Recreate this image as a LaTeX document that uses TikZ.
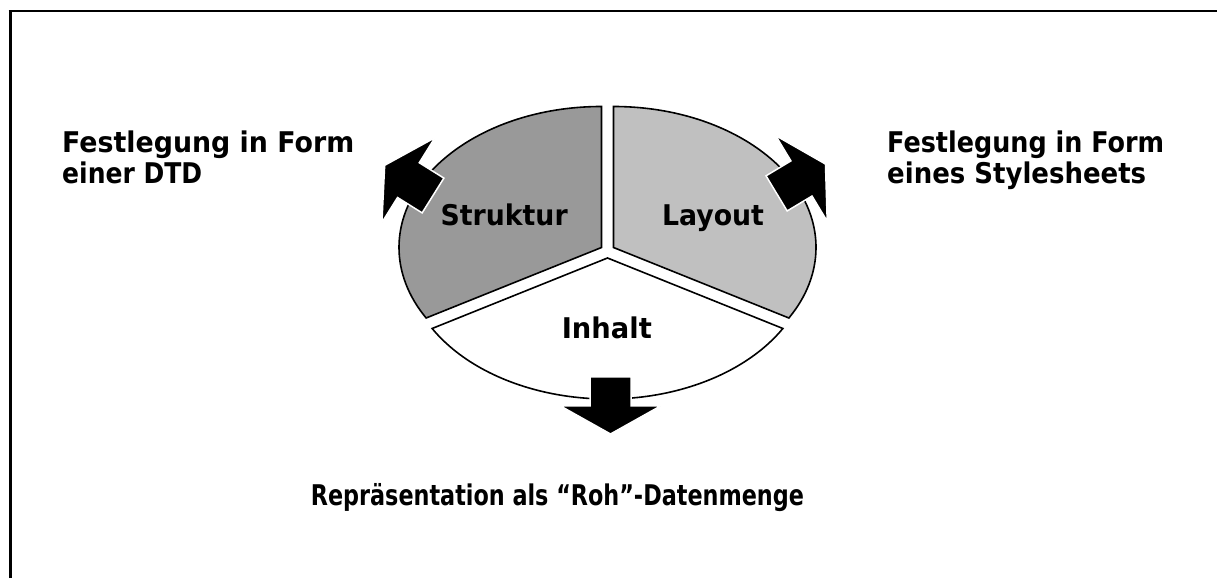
\documentclass[tikz,border=0pt]{standalone}
\usepackage{fontspec}
\usepackage{graphicx}
\setmainfont{DejaVu Sans}
\newfontfamily\condfont{DejaVu Sans Condensed}
\definecolor{strukturgray}{gray}{0.6}
\definecolor{layoutgray}{gray}{0.753}
\newcommand{\fitw}[2]{\resizebox{#1pt}{\height}{#2}}
\begin{document}
\begin{tikzpicture}[x=1pt,y=1pt,
  lbl/.style={inner sep=0pt, font=\fontsize{28.5}{34}\selectfont\bfseries},
  piece/.style={draw=black, line width=1.6pt, line join=miter},
  blockarrow/.style={fill=black, draw=white, line width=1.5pt, line join=miter}]
\useasboundingbox (0,0) rectangle (1217,578);
% frame
\draw[line width=3pt] (10,0) -- (10,566.5);
\draw[line width=2pt] (8.5,566.5) -- (1217,566.5);
% pie pieces
\draw[piece, fill=strukturgray] (601.5,330.5) -- (601.5,471.5)
  arc[start angle=90, end angle=210, x radius=202.5, y radius=141] -- cycle;
\draw[piece, fill=layoutgray] (613.5,330.5) -- (613.5,471.5)
  arc[start angle=90, end angle=-30, x radius=202.5, y radius=141] -- cycle;
\draw[piece, fill=white] (607.5,320) -- (432.13,249.5)
  arc[start angle=210, end angle=330, x radius=202.5, y radius=141] -- cycle;
% block arrows
\begin{scope}[shift={(433,382.5)}, rotate=148]
  \draw[blockarrow] (0,-20.5) -- (29,-20.5) -- (29,-50) -- (57,0) -- (29,50) -- (29,20.5) -- (0,20.5) -- cycle;
\end{scope}
\begin{scope}[shift={(776.6,384.6)}, rotate=31]
  \draw[blockarrow] (0,-20.5) -- (29,-20.5) -- (29,-50) -- (57,0) -- (29,50) -- (29,20.5) -- (0,20.5) -- cycle;
\end{scope}
\begin{scope}[shift={(610.5,201)}, rotate=-90]
  \draw[blockarrow] (0,-20.5) -- (29,-20.5) -- (29,-50) -- (57,0) -- (29,50) -- (29,20.5) -- (0,20.5) -- cycle;
\end{scope}
% labels
\node[lbl, anchor=base] (struktur) at (504.2,352) {\fitw{127}{Struktur}};
\node[lbl, anchor=base] (layout) at (713,352) {\fitw{102}{Layout}};
\node[lbl, anchor=base] (inhalt) at (606.8,239.7) {\fitw{90}{Inhalt}};
\node[lbl, anchor=base west] (dtd1) at (62,425.3) {\fitw{292}{Festlegung in Form}};
\node[lbl, anchor=base west] (dtd2) at (62,394.5) {\fitw{140}{einer DTD}};
\node[lbl, anchor=base west] (css1) at (887,425.3) {\fitw{277}{Festlegung in Form}};
\node[lbl, anchor=base west] (css2) at (887,394.5) {\fitw{259}{eines Stylesheets}};
\node[lbl, anchor=base] (roh) at (557.4,73) {\fitw{493}{\condfont\bfseries Repräsentation als “Roh”-Datenmenge}};
\end{tikzpicture}
\end{document}
